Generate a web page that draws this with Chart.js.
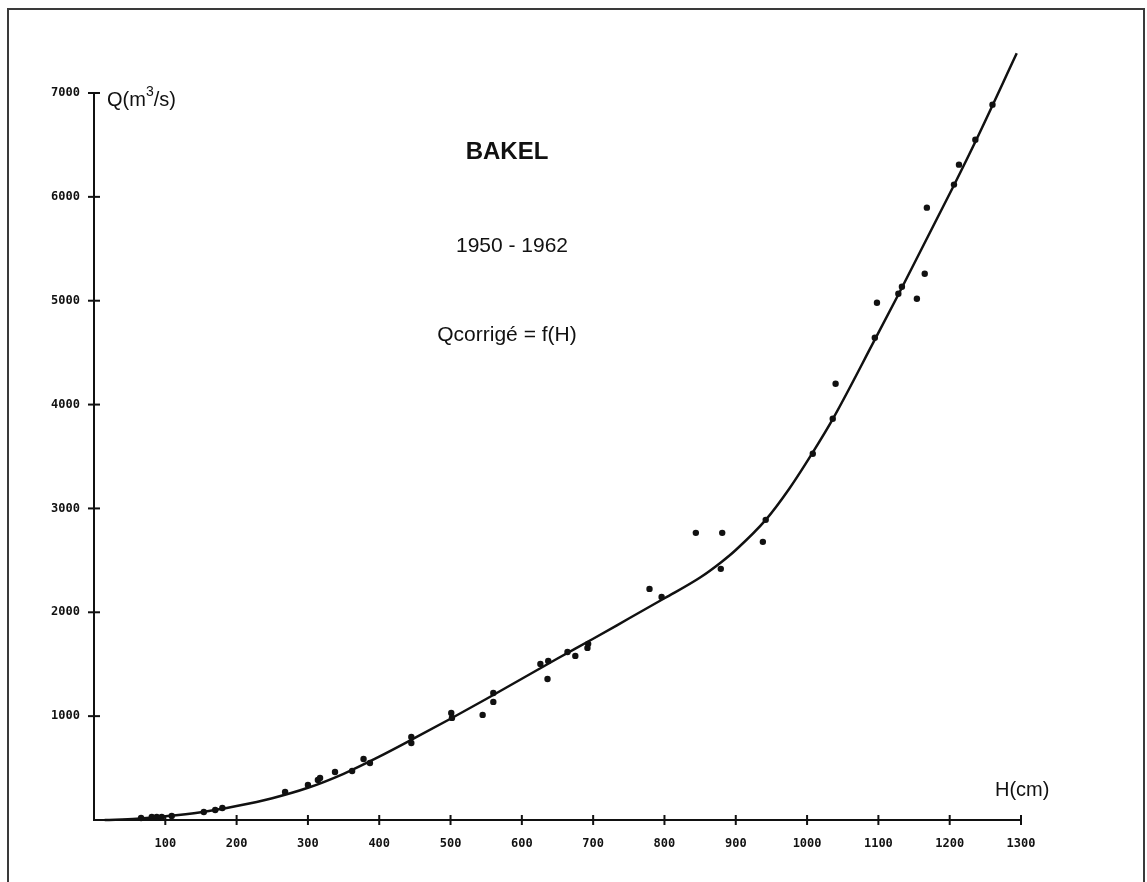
<!DOCTYPE html>
<html lang="fr">
<head>
<meta charset="utf-8">
<title>BAKEL 1950 - 1962</title>
<script src="https://cdn.jsdelivr.net/npm/chart.js@4.4.1/dist/chart.umd.min.js"></script>
<style>
  html, body { margin: 0; padding: 0; background: #fff; }
  #wrap { position: relative; width: 1147px; height: 882px; overflow: hidden; }
  #frame {
    position: absolute; left: 7px; top: 8px; width: 1138px; height: 900px;
    border: 2px solid #3a3a3a; box-sizing: border-box;
  }
  canvas { position: absolute; left: 0; top: 0; }
</style>
</head>
<body>
<div id="wrap">
  <div id="frame"></div>
  <canvas id="bakelChart" width="1147" height="882"></canvas>
</div>
<script>
// ===== DATA =====
// Jaugeages : hauteur H (cm) et débit Q (m3/s)
const obsH = [66, 81, 88, 95, 109, 154, 170, 180, 268, 300, 314, 317, 338, 362, 378, 387,
  445, 445, 501, 502, 545, 560, 560, 626, 637, 636, 664, 675, 692, 693,
  779, 796, 844, 881, 879, 938, 942, 1008, 1036, 1040, 1095, 1098, 1128, 1133,
  1154, 1165, 1168, 1206, 1213, 1236, 1260];
const obsQ = [19, 29, 29, 29, 39, 77, 96, 116, 270, 337, 385, 405, 462, 472, 588, 549,
  800, 742, 1031, 983, 1012, 1223, 1137, 1503, 1532, 1358, 1618, 1580, 1657, 1696,
  2225, 2148, 2765, 2765, 2418, 2678, 2890, 3526, 3863, 4200, 4644, 4981, 5067, 5135,
  5019, 5260, 5896, 6118, 6310, 6551, 6888];

// Courbe de tarage Qcorrigé = f(H)
const curveH = [15, 60, 100, 150, 200, 250, 300, 350, 400, 450, 500, 550, 600, 650, 700,
  750, 800, 850, 880, 900, 942, 975, 1008, 1036, 1095, 1129, 1206, 1237, 1294];
const curveQ = [0, 12, 35, 75, 135, 210, 310, 445, 610, 790, 975, 1165, 1360, 1555, 1745,
  1940, 2135, 2335, 2485, 2600, 2890, 3190, 3540, 3860, 4625, 5072, 6112, 6545, 7382];

const xTicks = [100, 200, 300, 400, 500, 600, 700, 800, 900, 1000, 1100, 1200, 1300];
const yTicks = [1000, 2000, 3000, 4000, 5000, 6000, 7000];

const tickFont = { family: '"DejaVu Sans Mono", monospace', size: 12, weight: 'bold' };
const textFont = '"Liberation Sans", Arial, sans-serif';

// tick marks crossing the axes + texts
const axisDecor = {
  id: 'axisDecor',
  afterDraw(chart) {
    const { ctx } = chart;
    const xs = chart.scales.x;
    const ys = chart.scales.y;
    const x0 = xs.getPixelForValue(0);
    const y0 = ys.getPixelForValue(0);

    ctx.save();
    ctx.strokeStyle = '#111';
    ctx.lineWidth = 2;
    xTicks.forEach((v) => {
      const px = xs.getPixelForValue(v);
      ctx.beginPath();
      ctx.moveTo(px, y0 - 5);
      ctx.lineTo(px, y0 + 5);
      ctx.stroke();
    });
    yTicks.forEach((v) => {
      const py = ys.getPixelForValue(v);
      ctx.beginPath();
      ctx.moveTo(x0 - 6, py);
      ctx.lineTo(x0 + 6, py);
      ctx.stroke();
    });

    ctx.fillStyle = '#111';
    ctx.textBaseline = 'middle';
    ctx.textAlign = 'center';
    ctx.font = 'bold 24px ' + textFont;
    ctx.fillText('BAKEL', 507, 152);
    ctx.font = '21px ' + textFont;
    ctx.fillText('1950 - 1962', 512, 246);
    ctx.fillText('Qcorrigé = f(H)', 507, 335);

    // axis titles
    ctx.textAlign = 'left';
    ctx.font = '20px ' + textFont;
    let tx = 107;
    ctx.fillText('Q(m', tx, 100);
    tx += ctx.measureText('Q(m').width;
    ctx.font = '14px ' + textFont;
    ctx.fillText('3', tx, 92);
    tx += ctx.measureText('3').width;
    ctx.font = '20px ' + textFont;
    ctx.fillText('/s)', tx, 100);
    ctx.fillText('H(cm)', 995, 790);
    ctx.restore();
  }
};

new Chart(document.getElementById('bakelChart'), {
  type: 'scatter',
  data: {
    datasets: [
      {
        label: 'Qcorrigé = f(H)',
        data: curveH.map((h, i) => ({ x: h, y: curveQ[i] })),
        showLine: true,
        borderColor: '#111',
        borderWidth: 2.5,
        pointRadius: 0,
        cubicInterpolationMode: 'monotone',
        clip: false,
      },
      {
        label: 'Jaugeages',
        data: obsH.map((h, i) => ({ x: h, y: obsQ[i] })),
        backgroundColor: '#111',
        borderColor: '#111',
        pointRadius: 3.2,
        pointBorderWidth: 0,
        clip: false,
      },
    ],
  },
  options: {
    responsive: false,
    animation: false,
    layout: { padding: { left: 0, top: 93, right: 126, bottom: 0 } },
    plugins: {
      legend: { display: false },
      tooltip: { enabled: false },
    },
    scales: {
      x: {
        type: 'linear',
        min: 0,
        max: 1300,
        afterFit: (s) => { s.height = 62; },
        grid: { display: false, drawTicks: false },
        border: { display: true, color: '#111', width: 2 },
        ticks: {
          stepSize: 100,
          padding: 17,
          color: '#111',
          font: tickFont,
          maxRotation: 0,
          autoSkip: false,
          callback: (v) => (v === 0 ? '' : v),
        },
      },
      y: {
        type: 'linear',
        min: 0,
        max: 7000,
        afterFit: (s) => { s.width = 94; },
        grid: { display: false, drawTicks: false },
        border: { display: true, color: '#111', width: 2 },
        ticks: {
          stepSize: 1000,
          padding: 14,
          color: '#111',
          font: tickFont,
          callback: (v) => (v === 0 ? '' : v),
        },
      },
    },
  },
  plugins: [axisDecor],
});
</script>
</body>
</html>
